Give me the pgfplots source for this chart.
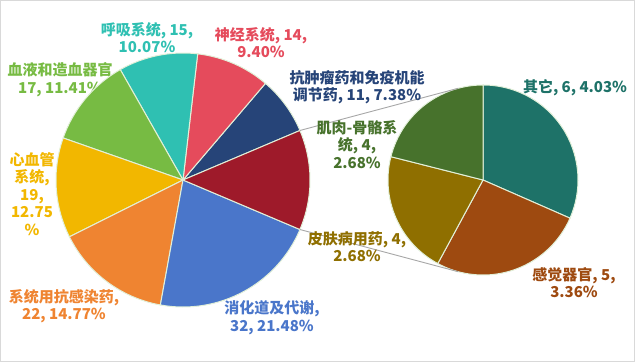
\documentclass[border=0pt]{standalone}
\usepackage{pgfplots}
\pgfplotsset{compat=1.18}
\usepackage{pgfplotstable}
\usepackage{fontspec}
\newfontfamily\cjk{Noto Sans CJK SC}
\definecolor{cAnti}{HTML}{264478}
\definecolor{cNeuro}{HTML}{E54B5C}
\definecolor{cResp}{HTML}{2FC0B2}
\definecolor{cBlood}{HTML}{77BB43}
\definecolor{cCardio}{HTML}{F2B700}
\definecolor{cInfect}{HTML}{EF8431}
\definecolor{cDigest}{HTML}{4A76CA}
\definecolor{cOther}{HTML}{9E1A2A}
\definecolor{cQita}{HTML}{1E7268}
\definecolor{cSense}{HTML}{9E4A10}
\definecolor{cSkin}{HTML}{8F6F00}
\definecolor{cMuscle}{HTML}{47722C}
\definecolor{wedgeline}{HTML}{E2F0D9}
\definecolor{frame}{HTML}{D9D9D9}
\definecolor{conn}{HTML}{A6A6A6}
\tikzset{lab/.style={font=\cjk\bfseries\fontsize{15bp}{17.5bp}\selectfont,align=center,inner sep=0pt}}

% main pie, counter-clockwise from the upper edge of the "other" slice
\pgfplotstableread{
value color
11 cAnti
14 cNeuro
15 cResp
17 cBlood
19 cCardio
22 cInfect
32 cDigest
19 cOther
}\maintable
% second pie, clockwise from the top
\pgfplotstableread{
value color
6 cQita
5 cSense
4 cSkin
4 cMuscle
}\sectable

\begin{document}
\begin{tikzpicture}
\pgfplotstablegetrowsof{\maintable}\pgfmathtruncatemacro\nmain{\pgfplotsretval-1}
\pgfplotstablegetrowsof{\sectable}\pgfmathtruncatemacro\nsec{\pgfplotsretval-1}
\def\mtotal{0}
\pgfplotsforeachungrouped \i in {0,...,\nmain}{\pgfplotstablegetelem{\i}{value}\of\maintable\pgfmathsetmacro\mtotal{\mtotal+\pgfplotsretval}}
\def\stotal{0}
\pgfplotsforeachungrouped \i in {0,...,\nsec}{\pgfplotstablegetelem{\i}{value}\of\sectable\pgfmathsetmacro\stotal{\stotal+\pgfplotsretval}}
\pgfplotstablegetelem{\nmain}{value}\of\maintable
\pgfmathsetmacro\half{180*\pgfplotsretval/\mtotal}
\let\astart\half
\def\bstart{90}
\begin{axis}[width=635bp,height=362bp,scale only axis,
  xmin=0,xmax=635,ymin=0,ymax=362,hide axis,clip=false]
\draw[color=frame, line width=1bp] (axis cs:0.5,0.5) rectangle (axis cs:634.5,361.5);
\node[lab, text=cBlood] at (axis cs:60,282.5) {血液和造血器官\\17, 11.41\%};
\pgfplotsforeachungrouped \i in {0,...,\nmain}{%
  \pgfplotstablegetelem{\i}{value}\of\maintable
  \pgfmathsetmacro\aend{\astart+360*\pgfplotsretval/\mtotal}%
  \pgfplotstablegetelem{\i}{color}\of\maintable
  \edef\temp{\noexpand\fill[fill=\pgfplotsretval, draw=wedgeline, line width=1bp] (axis cs:183,182) -- ++(\astart:127bp) arc[start angle=\astart, end angle=\aend, radius=127bp] -- cycle;}%
  \temp
  \let\astart\aend
}
\pgfplotsforeachungrouped \i in {0,...,\nsec}{%
  \pgfplotstablegetelem{\i}{value}\of\sectable
  \pgfmathsetmacro\bend{\bstart-360*\pgfplotsretval/\stotal}%
  \pgfplotstablegetelem{\i}{color}\of\sectable
  \edef\temp{\noexpand\fill[fill=\pgfplotsretval, draw=wedgeline, line width=1bp] (axis cs:483,182) -- ++(\bstart:95bp) arc[start angle=\bstart, end angle=\bend, radius=95bp] -- cycle;}%
  \temp
  \let\bstart\bend
}
\edef\temp{\noexpand\draw[conn, line width=0.9bp] ([shift={(\half:127bp)}]axis cs:183,182) -- ([shift={(105:95bp)}]axis cs:483,182);}\temp
\edef\temp{\noexpand\draw[conn, line width=0.9bp] ([shift={(-\half:127bp)}]axis cs:183,182) -- ([shift={(255:95bp)}]axis cs:483,182);}\temp
\node[lab, text=cResp] at (axis cs:147,324.5) {呼吸系统, 15,\\10.07\%};
\node[lab, text=cNeuro] at (axis cs:261,319.5) {神经系统, 14,\\9.40\%};
\node[lab, text=cCardio] at (axis cs:32,168) {心血管\\系统,\\19,\\12.75\\\%};
\node[lab, text=cInfect] at (axis cs:64,56) {系统用抗感染药,\\22, 14.77\%};
\node[lab, text=cDigest] at (axis cs:272,44.5) {消化道及代谢,\\32, 21.48\%};
\node[lab, text=cAnti] at (axis cs:357,275) {抗肿瘤药和免疫机能\\调节药, 11, 7.38\%};
\node[lab, text=cMuscle] at (axis cs:357,217.5) {肌肉-骨骼系\\统, 4,\\2.68\%};
\node[lab, text=cSkin] at (axis cs:357,115.5) {皮肤病用药, 4,\\2.68\%};
\node[lab, text=cQita] at (axis cs:575,274) {其它, 6, 4.03\%};
\node[lab, text=cSense] at (axis cs:574,79.5) {感觉器官, 5,\\3.36\%};
\end{axis}
\end{tikzpicture}
\end{document}
